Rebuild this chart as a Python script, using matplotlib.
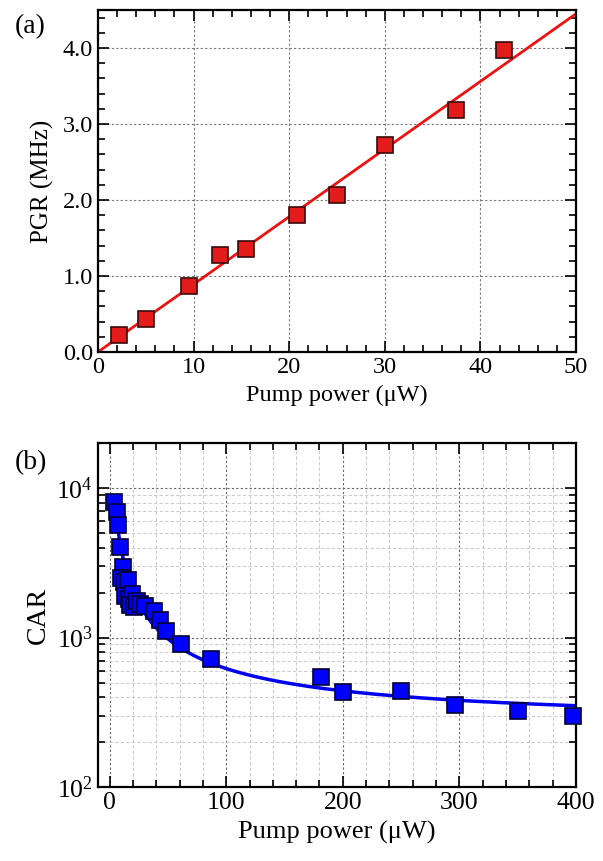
import numpy as np
import matplotlib.pyplot as plt
from matplotlib.ticker import MultipleLocator, LogLocator, NullFormatter

plt.rcParams['font.family'] = ['Liberation Serif', 'DejaVu Serif']
plt.rcParams['mathtext.fontset'] = 'stix'

# panel (a): pair generation rate vs pump power
potencia_a = [2.2, 5.0, 9.5, 12.8, 15.5, 20.8, 25.0, 30.0, 37.5, 42.5]
pgr = [0.22, 0.43, 0.87, 1.27, 1.35, 1.80, 2.06, 2.73, 3.19, 3.98]
inclinacao = 0.089  # MHz per uW, linear fit

# panel (b): coincidence-to-accidental ratio vs pump power
potencia_b = [4.0, 6.3, 7.1, 9.1, 11.1, 10.0, 12.0, 15.4, 13.5, 16.5, 19.1, 17.5,
              21.0, 23.4, 25.7, 30.0, 37.7, 43.4, 48.6, 61.4, 87.0,
              181.5, 200.0, 250.0, 296.0, 350.5, 397.7]
car = [8100, 6950, 5680, 4010, 2970, 2500, 2350, 2420, 1900, 1800, 1950, 1650,
       1600, 1760, 1680, 1620, 1500, 1320, 1100, 900, 724,
       542, 434, 441, 356, 324, 297]
car_a, car_b = 36000.0, 260.0  # fit CAR = A/P + B


def estilo_eixo(ax, tamanho):
    ax.tick_params(which='both', direction='in', top=True, right=True,
                   labelsize=tamanho, width=1.2)
    ax.tick_params(which='major', length=8)
    ax.tick_params(which='minor', length=5)
    for s in ax.spines.values():
        s.set_linewidth(1.6)


fig = plt.figure(figsize=(6.03, 8.61), dpi=100)

# (a)
ax1 = fig.add_axes([0.1625, 0.5912, 0.7927, 0.3972])
xf = np.linspace(0, 50, 50)
ax1.plot(xf, inclinacao * xf, color='#ee1111', lw=2, zorder=2)
ax1.plot(potencia_a, pgr, 's', ms=11, mfc='#e41b1b', mec='#3a0a0a', mew=1.2, zorder=3)
ax1.set_xlim(0, 50)
ax1.set_ylim(0, 4.5)
ax1.xaxis.set_major_locator(MultipleLocator(10))
ax1.xaxis.set_minor_locator(MultipleLocator(2))
ax1.yaxis.set_major_locator(MultipleLocator(1))
ax1.yaxis.set_minor_locator(MultipleLocator(0.2))
ax1.yaxis.set_major_formatter(plt.FormatStrFormatter('%.1f'))
ax1.grid(True, which='major', ls=(0, (2, 2)), color='#777777', lw=0.8)
ax1.set_axisbelow(True)
estilo_eixo(ax1, 17.5)
ax1.set_xlabel('Pump power (μW)', fontsize=17.5, labelpad=5)
ax1.set_ylabel('PGR (MHz)', fontsize=18, labelpad=6)
fig.text(0.024, 0.962, '(a)', fontsize=20)

# (b)
ax2 = fig.add_axes([0.1625, 0.0859, 0.7927, 0.3995])
xf2 = np.linspace(5, 400, 400)
ax2.plot(xf2, car_a / xf2 + car_b, color='#0000ee', lw=2.5, zorder=2)
ax2.plot(potencia_b, car, 's', ms=12, mfc='#0000ff', mec='#000033', mew=1.2,
         zorder=3, clip_on=False)
ax2.set_yscale('log')
ax2.set_xlim(-10, 400)
ax2.set_ylim(100, 20000)
ax2.xaxis.set_major_locator(MultipleLocator(100))
ax2.xaxis.set_minor_locator(MultipleLocator(20))
ax2.yaxis.set_major_locator(LogLocator(base=10, numticks=10))
ax2.yaxis.set_minor_locator(LogLocator(base=10, subs=np.arange(2, 10), numticks=10))
ax2.yaxis.set_minor_formatter(NullFormatter())
ax2.grid(True, which='major', ls=(0, (2, 2)), color='#666666', lw=0.8)
ax2.grid(True, which='minor', ls=(0, (3, 2)), color='#cccccc', lw=0.8)
ax2.set_axisbelow(True)
estilo_eixo(ax2, 18.5)
ax2.set_xlabel('Pump power (μW)', fontsize=19, labelpad=5)
ax2.set_ylabel('CAR', fontsize=20, labelpad=4)
fig.text(0.024, 0.455, '(b)', fontsize=20)

fig.savefig('out.png', dpi=100)
